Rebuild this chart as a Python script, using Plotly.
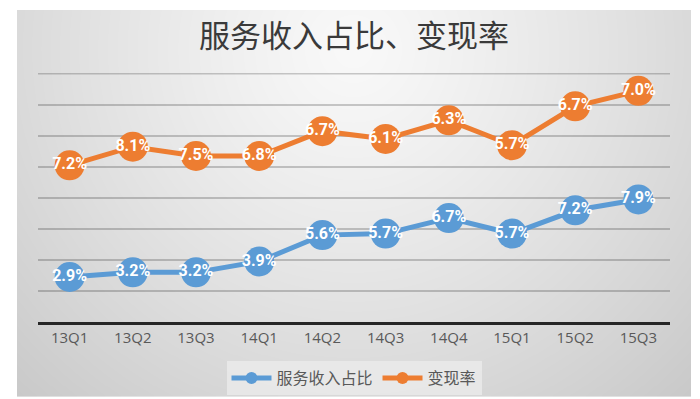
import base64
import struct
import zlib

import numpy as np
import plotly.graph_objects as go

# ---- data ----
categories = ["13Q1", "13Q2", "13Q3", "14Q1", "14Q2", "14Q3", "14Q4", "15Q1", "15Q2", "15Q3"]
service_share = [2.9, 3.2, 3.2, 3.9, 5.6, 5.7, 6.7, 5.7, 7.2, 7.9]      # 服务收入占比 (%)
monetization = [7.2, 8.1, 7.5, 6.8, 6.7, 6.1, 6.3, 5.7, 6.7, 7.0]       # 变现率 (%)
series_names = ["服务收入占比", "变现率"]
title_text = "服务收入占比、变现率"
y_max = 16
grid_values = [2, 4, 6, 8, 10, 12, 14]

BLUE = "#5B9BD5"
ORANGE = "#ED7D31"
GRID = "rgba(0,0,0,0.2)"

# ---- background gradient panel (style only) ----
W, H = 674, 399
yy, xx = np.mgrid[0:H, 0:W].astype(float)
cx, cy = 336.0, 40.0
d = np.sqrt(((xx - cx) / 420.0) ** 2 + ((yy - cy) / 430.0) ** 2)
val = np.clip(249 - 40 * d ** 1.2, 0, 255).astype(np.uint8)


def png_uri(arr):
    h, w = arr.shape
    raw = b"".join(b"\x00" + arr[i].tobytes() for i in range(h))

    def chunk(t, data):
        c = struct.pack(">I", len(data)) + t + data
        return c + struct.pack(">I", zlib.crc32(t + data) & 0xFFFFFFFF)

    png = (b"\x89PNG\r\n\x1a\n"
           + chunk(b"IHDR", struct.pack(">IIBBBBB", w, h, 8, 0, 0, 0, 0))
           + chunk(b"IDAT", zlib.compress(raw, 9))
           + chunk(b"IEND", b""))
    return "data:image/png;base64," + base64.b64encode(png).decode()


fmt = lambda v: f"{v:.1f}%"

fig = go.Figure()
# visible lines + markers (stacked, like the original stacked line chart)
fig.add_trace(go.Scatter(
    x=categories, y=service_share, name=series_names[0], stackgroup="lines", fill="none",
    mode="lines+markers", line=dict(color=BLUE, width=5),
    marker=dict(color=BLUE, size=30), hoverinfo="skip"))
fig.add_trace(go.Scatter(
    x=categories, y=monetization, name=series_names[1], stackgroup="lines", fill="none",
    mode="lines+markers", line=dict(color=ORANGE, width=5),
    marker=dict(color=ORANGE, size=30), hoverinfo="skip"))
# data labels
label_font = dict(color="white", size=16, family="Roboto", weight="bold")
fig.add_trace(go.Scatter(
    x=categories, y=service_share, stackgroup="labels", fill="none", mode="text",
    text=[fmt(v) for v in service_share], textposition="middle center",
    textfont=label_font, showlegend=False, hoverinfo="skip"))
fig.add_trace(go.Scatter(
    x=categories, y=monetization, stackgroup="labels", fill="none", mode="text",
    text=[fmt(v) for v in monetization], textposition="middle center",
    textfont=label_font, showlegend=False, hoverinfo="skip"))

L, R, T, B = 30, 38, 65, 77
pw, ph = 700 - L - R, 399 - T - B
fig.add_layout_image(dict(
    source=png_uri(val), xref="paper", yref="paper",
    x=(9 - L) / pw, y=(T + ph) / ph, sizex=W / pw, sizey=H / ph,
    xanchor="left", yanchor="top", sizing="stretch", layer="below"))

# top gridline at the axis maximum
fig.add_shape(type="line", xref="paper", yref="y", x0=0, x1=1, y0=y_max, y1=y_max,
              line=dict(color=GRID, width=1.5), layer="below")

fig.update_layout(
    width=700, height=399,
    margin=dict(l=L, r=R, t=T, b=B),
    paper_bgcolor="white", plot_bgcolor="rgba(0,0,0,0)",
    title=dict(text=title_text, x=0.5, xref="paper", y=1 - 28 / 399, yanchor="middle",
               font=dict(family="Noto Sans CJK SC", size=31, color="#3a3a3a")),
    xaxis=dict(type="category", range=[-0.5, 9.5], showgrid=False, showline=True,
               linecolor="#262626", linewidth=3, ticks="",
               tickfont=dict(family="Open Sans", size=15, color="#595959")),
    yaxis=dict(range=[0, y_max + 0.05], tickvals=grid_values,
               showticklabels=False, zeroline=False,
               gridcolor=GRID, gridwidth=1.5),
    legend=dict(orientation="h", x=0.5, xanchor="center", y=(322 - 380) / ph,
                yanchor="middle", bgcolor="rgba(234,234,234,0.85)",
                font=dict(family="Noto Sans CJK SC", size=16, color="#595959"),
                itemwidth=40, itemsizing="constant"),
    showlegend=True,
)

fig.write_html("out.html")
